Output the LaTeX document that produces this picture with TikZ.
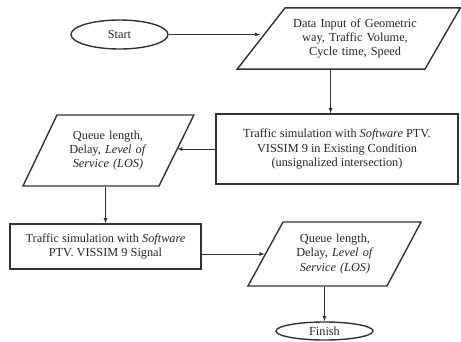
\documentclass[tikz,border=0pt]{standalone}
\usepackage{fontspec}
\setmainfont{Liberation Serif}
\usetikzlibrary{shapes}
\usetikzlibrary{arrows}

\begin{document}
\begin{tikzpicture}[x=1pt,y=-1pt,>=latex,
    box/.style={draw=black!80,line width=1.4pt,align=center,inner sep=0pt,
      font=\fontsize{12.3}{14.2}\selectfont,text=black!85},
    oval/.style={box,ellipse,minimum width=97pt,minimum height=29pt},
    io/.style={box,trapezium,inner xsep=6pt},
    proc/.style={box,rectangle},
    link/.style={->,draw=black!80,line width=0.8pt}]
        \useasboundingbox (0,0) rectangle (461,341);
        \node[oval] (start) at (119.5,34.5) {Start};
        \node[io,text width=128pt,inner ysep=10.7pt,
          trapezium left angle=52,trapezium right angle=120] (data) at (355,38.5)
          {Data Input of Geometric\\ way, Traffic Volume,\\ Cycle time, Speed};
        \node[proc,minimum width=242pt,minimum height=70pt] (simA) at (337,149)
          {Traffic simulation with \textit{Software} PTV.\\ VISSIM 9 in Existing Condition\\ (unsignalized intersection)};
        \node[io,text width=90pt,inner ysep=15.7pt,
          trapezium left angle=64.4,trapezium right angle=116.2] (queueA) at (108,150.5)
          {Queue length,\\ Delay, \textit{Level of}\\ \textit{Service (LOS)}};
        \node[proc,minimum width=191pt,minimum height=45pt] (simB) at (105.5,246.5)
          {Traffic simulation with \textit{Software}\\ PTV. VISSIM 9 Signal};
        \node[io,text width=92pt,inner ysep=12.2pt,
          trapezium left angle=61.3,trapezium right angle=118] (queueB) at (335,254)
          {Queue length,\\ Delay, \textit{Level of}\\ \textit{Service (LOS)}};
        \node[oval,minimum height=18pt] (finish) at (324.5,331) {Finish};
        \draw[link] (start.east) -- (start.east -| data.left side);
        \draw[link] (data.bottom side) -- (data.bottom side |- simA.north);
        \draw[link] (simA.west) -- (simA.west -| queueA.right side);
        \draw[link] (queueA.bottom side -| simB.north) -- (simB.north);
        \draw[link] (simB.east |- queueB.left side) -- (queueB.left side);
        \draw[link] (queueB.bottom side -| finish.north) -- (finish.north);
      \end{tikzpicture}
\end{document}
